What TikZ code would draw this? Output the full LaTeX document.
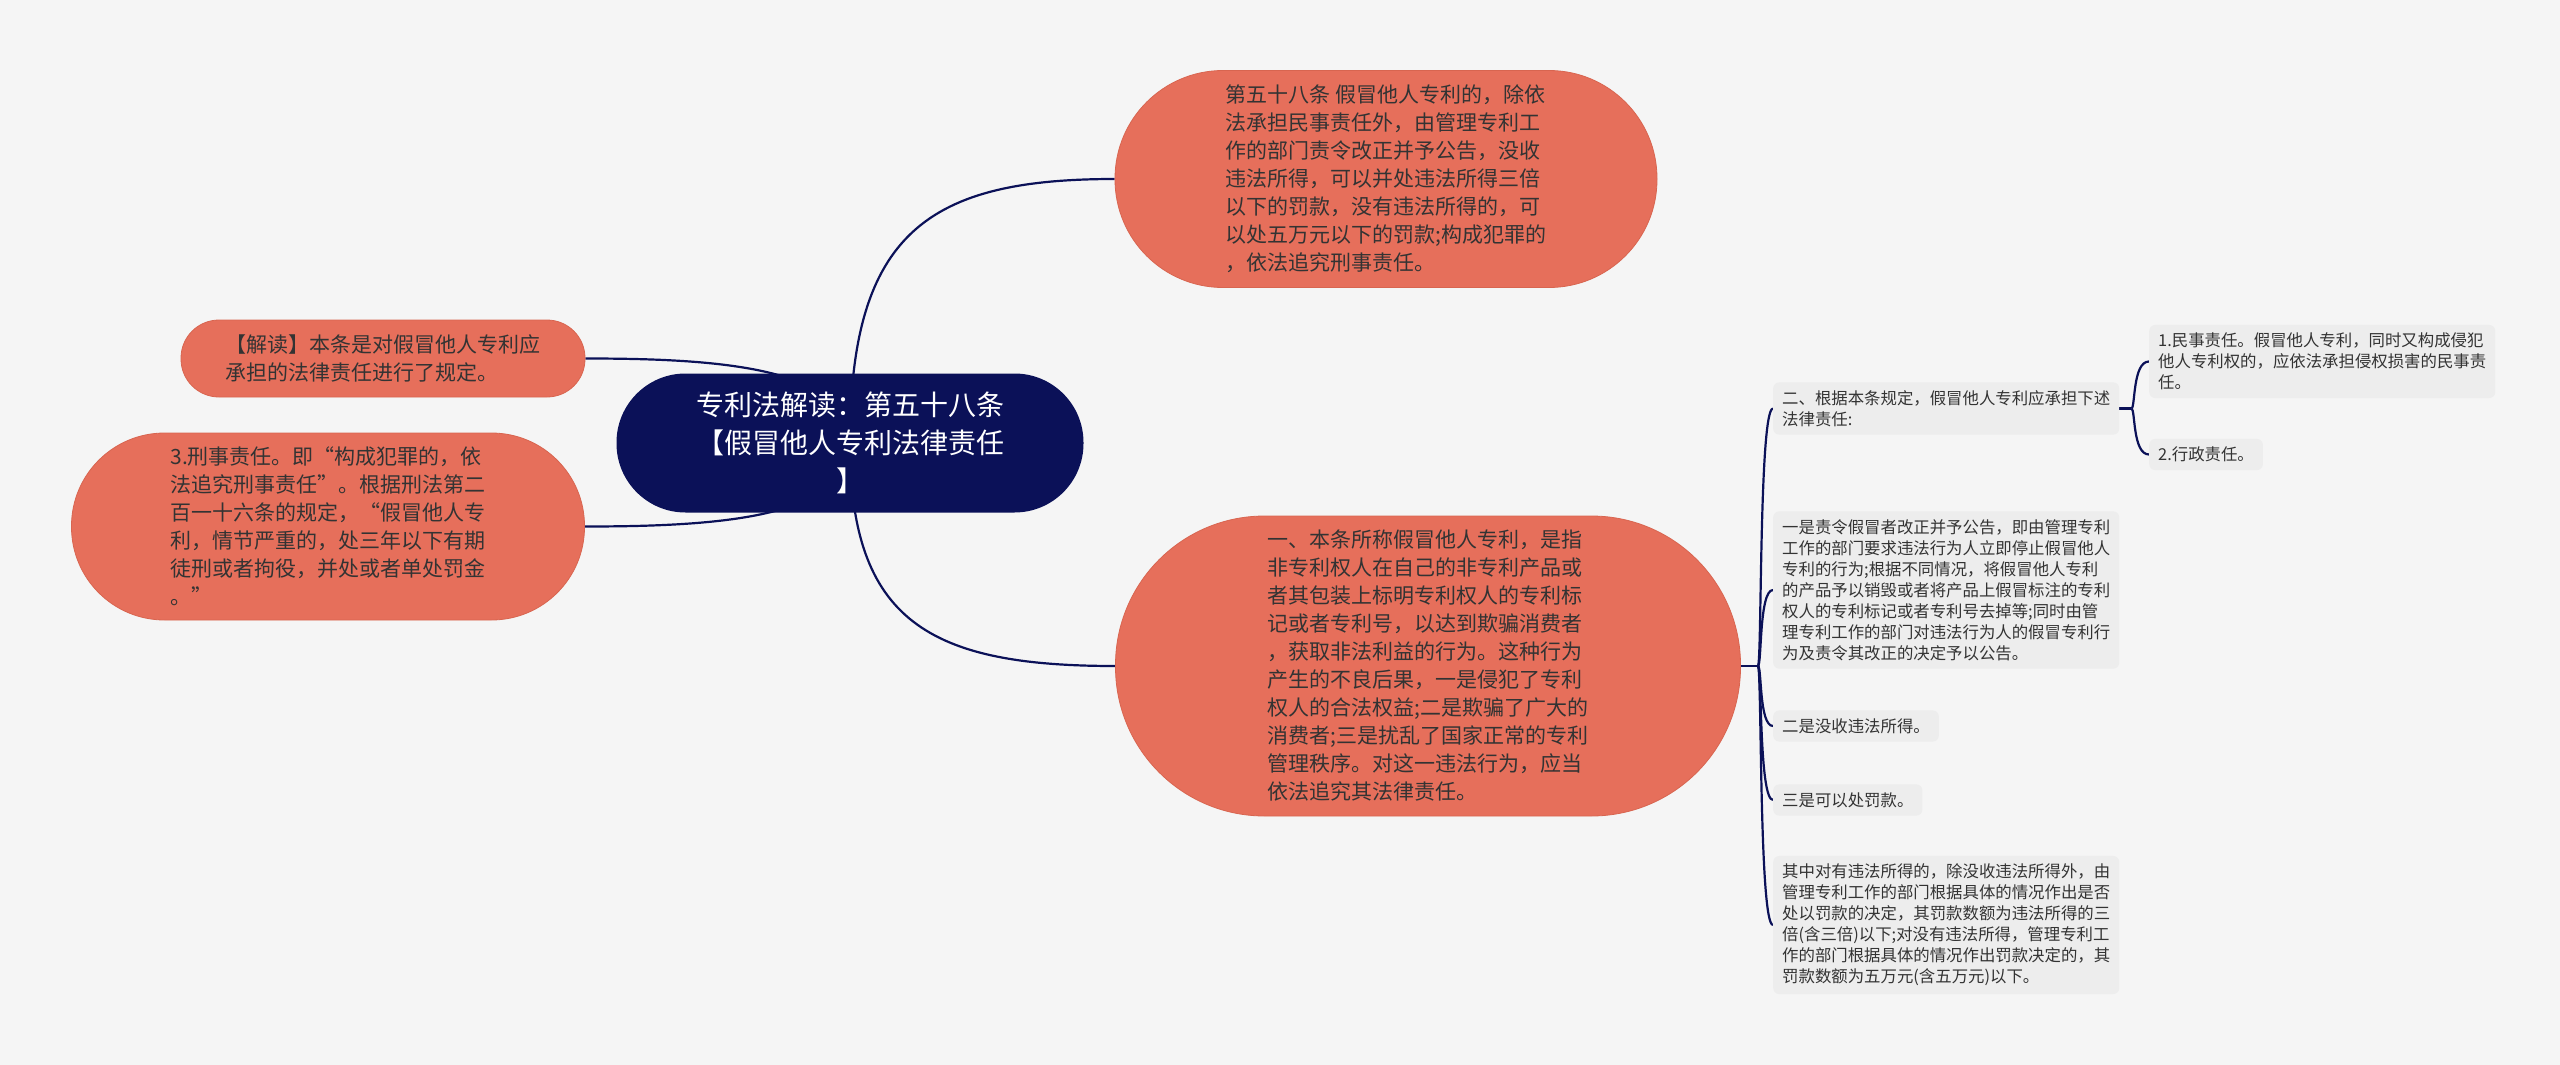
\documentclass[tikz,border=0pt]{standalone}
\usepackage{fontspec}
\setmainfont{Noto Sans CJK SC}
\usetikzlibrary{calc}
\pgfdeclarelayer{bgl}
\pgfdeclarelayer{edgel}
\pgfsetlayers{bgl,edgel,main}
\definecolor{bgc}{HTML}{F5F5F5}
\definecolor{salmon}{HTML}{E66F5B}
\definecolor{salmonb}{HTML}{D86550}
\definecolor{navy}{HTML}{0B1158}
\definecolor{boxc}{HTML}{EDEDED}
\definecolor{txt}{HTML}{333333}
\tikzset{
  rootn/.style={rectangle, fill=navy, text=white, align=center, font=\fontsize{28}{38}\selectfont, inner sep=0pt},
  pill/.style={rectangle, fill=salmon, draw=salmonb, line width=0.8pt, text=txt, align=left, font=\fontsize{21}{28}\selectfont, inner sep=0pt},
  leaf/.style={rectangle, fill=boxc, rounded corners=6pt, text=txt, align=left, font=\fontsize{16.4}{21}\selectfont, inner xsep=9pt, inner ysep=8pt, anchor=west},
  link/.style={draw=navy, line width=2.2pt},
}
\begin{document}
\begin{tikzpicture}[x=1pt,y=-1pt]
\useasboundingbox (0,0) rectangle (2560,1065);
\begin{pgfonlayer}{bgl}
\fill[bgc] (0,0) rectangle (2560,1065);
\end{pgfonlayer}

\node[rootn, minimum width=467pt, minimum height=139pt, rounded corners=69pt] (root) at (850,443) {专利法解读：第五十八条\\【假冒他人专利法律责任\\】};

\node[pill, minimum width=542pt, minimum height=217pt, rounded corners=108pt] (tr) at (1386,179) {第五十八条 假冒他人专利的，除依\\法承担民事责任外，由管理专利工\\作的部门责令改正并予公告，没收\\违法所得，可以并处违法所得三倍\\以下的罚款，没有违法所得的，可\\以处五万元以下的罚款;构成犯罪的\\，依法追究刑事责任。};

\node[pill, minimum width=625pt, minimum height=300pt, rounded corners=149pt] (mid) at (1428,666) {一、本条所称假冒他人专利，是指\\非专利权人在自己的非专利产品或\\者其包装上标明专利权人的专利标\\记或者专利号，以达到欺骗消费者\\，获取非法利益的行为。这种行为\\产生的不良后果，一是侵犯了专利\\权人的合法权益;二是欺骗了广大的\\消费者;三是扰乱了国家正常的专利\\管理秩序。对这一违法行为，应当\\依法追究其法律责任。};

\node[pill, minimum width=404pt, minimum height=77pt, rounded corners=38pt] (lt) at (383,358.5) {【解读】本条是对假冒他人专利应\\承担的法律责任进行了规定。};

\node[pill, minimum width=513pt, minimum height=187pt, rounded corners=93pt] (lb) at (328,526.5) {3.刑事责任。即“构成犯罪的，依\\法追究刑事责任”。根据刑法第二\\百一十六条的规定，“假冒他人专\\利，情节严重的，处三年以下有期\\徒刑或者拘役，并处或者单处罚金\\。”};

\node[leaf] (r2) at (1773,408.5) {二、根据本条规定，假冒他人专利应承担下述\\法律责任:};
\node[leaf] (r21) at (2149,361.5) {1.民事责任。假冒他人专利，同时又构成侵犯\\他人专利权的，应依法承担侵权损害的民事责\\任。};
\node[leaf] (r22) at (2149,454.5) {2.行政责任。};
\node[leaf] (ra) at (1773,590) {一是责令假冒者改正并予公告，即由管理专利\\工作的部门要求违法行为人立即停止假冒他人\\专利的行为;根据不同情况，将假冒他人专利\\的产品予以销毁或者将产品上假冒标注的专利\\权人的专利标记或者专利号去掉等;同时由管\\理专利工作的部门对违法行为人的假冒专利行\\为及责令其改正的决定予以公告。};
\node[leaf] (rb) at (1773,726) {二是没收违法所得。};
\node[leaf] (rc) at (1773,800) {三是可以处罚款。};
\node[leaf] (rd) at (1773,925) {其中对有违法所得的，除没收违法所得外，由\\管理专利工作的部门根据具体的情况作出是否\\处以罚款的决定，其罚款数额为违法所得的三\\倍(含三倍)以下;对没有违法所得，管理专利工\\作的部门根据具体的情况作出罚款决定的，其\\罚款数额为五万元(含五万元)以下。};

\coordinate (ctr) at (root.center|-tr.west);
\coordinate (cmid) at (root.center|-mid.west);
\coordinate (clt) at (root.center|-lt.east);
\coordinate (clb) at (root.center|-lb.east);
\coordinate (mj) at ($(mid.east)+(17,0)$);
\coordinate (sj) at ($(r2.east)+(12,0)$);

\begin{pgfonlayer}{edgel}
\draw[link] (root.center) .. controls ($(root.center)!0.8!(ctr)$) and ($(ctr)!0.3!(tr.west)$) .. (tr.west);
\draw[link] (root.center) .. controls ($(root.center)!0.8!(cmid)$) and ($(cmid)!0.3!(mid.west)$) .. (mid.west);
\draw[link] (root.center) .. controls ($(root.center)!0.9!(clt)$) and ($(clt)!0.5!(lt.east)$) .. (lt.east);
\draw[link] (root.center) .. controls ($(root.center)!0.9!(clb)$) and ($(clb)!0.5!(lb.east)$) .. (lb.east);
\draw[link] (mid.east) -- (mj);
\foreach \n in {r2,ra,rb,rc,rd}
  \draw[link] (mj) .. controls ($(mj)+(4,0)$) and ($(mj|-\n.west)+(1,0)$) .. (\n.west);
\draw[link] (r2.east) -- (sj);
\foreach \n in {r21,r22}
  \draw[link] (sj) .. controls ($(sj)+(4,0)$) and ($(sj|-\n.west)+(1,0)$) .. (\n.west);
\end{pgfonlayer}
\end{tikzpicture}
\end{document}
